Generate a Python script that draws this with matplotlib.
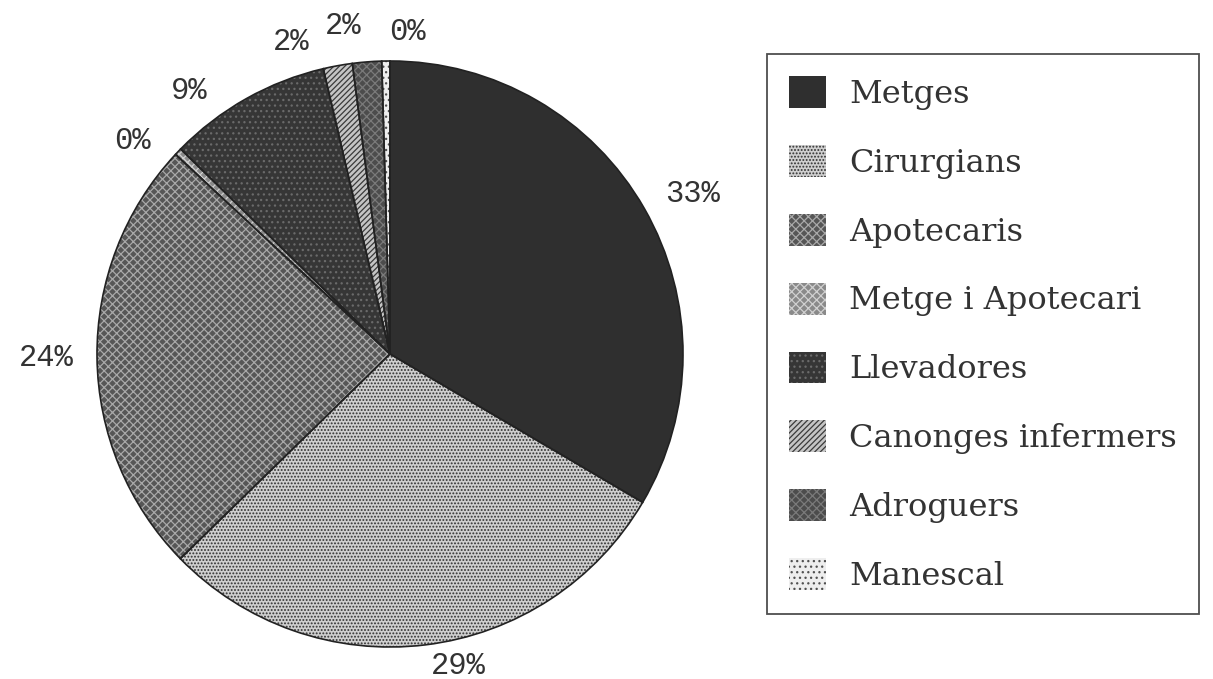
import numpy as np
import matplotlib
matplotlib.use("Agg")
import matplotlib.pyplot as plt

# ---- data ----
categories = ["Metges", "Cirurgians", "Apotecaris", "Metge i Apotecari",
              "Llevadores", "Canonges infermers", "Adroguers", "Manescal"]
shares = [33.4, 29.2, 24.2, 0.4, 9.0, 1.6, 1.6, 0.45]

# ---- style ----
face_colors = ["#2f2f2f", "#cfcfcf", "#565656", "#8a8a8a",
               "#363636", "#c4c4c4", "#4c4c4c", "#eeeeee"]
hatch_colors = ["#3c3c3c", "#303030", "#a8a8a8", "#d0d0d0",
                "#6a6a6a", "#3a3a3a", "#7a7a7a", "#505050"]
hatches = ["", ".....", "xxxx", "xxxx", "...", "//////", "xxxx", "..."]
label_nudge_deg = [-2, 6, 0, 4, 7, 5, 4, -4]
label_radius = [1.06, 1.04, 1.08, 1.06, 1.05, 1.05, 1.08, 1.05]
plt.rcParams["hatch.linewidth"] = 0.9

W, H = 1213, 679
fig = plt.figure(figsize=(W / 100, H / 100), dpi=100)
cx, cy, R = 390, H - 354, 293   # pixel centre / radius of pie
Lx, Ly = 1.33, 1.15
ax = fig.add_axes([(cx - Lx * R) / W, (cy - Ly * R) / H, 2 * Lx * R / W, 2 * Ly * R / H])

wedges, _, autotexts = ax.pie(shares, startangle=90, counterclock=False,
                              autopct=lambda p: f"{p:.0f}%", pctdistance=1.06,
                              wedgeprops=dict(linewidth=0),
                              textprops=dict(family="Liberation Mono", fontsize=22,
                                             color="#333333"))
for w, fc, hc, h in zip(wedges, face_colors, hatch_colors, hatches):
    w.set_facecolor(fc)
    w.set_edgecolor(hc)
    w.set_hatch(h)

# outlines
outl, _ = ax.pie(shares, startangle=90, counterclock=False,
                 wedgeprops=dict(fill=False, linewidth=1.2, edgecolor="#222222"))

for w, t, nd, r in zip(wedges, autotexts, label_nudge_deg, label_radius):
    ang = np.deg2rad((w.theta1 + w.theta2) / 2 + nd)
    c, s = np.cos(ang), np.sin(ang)
    t.set_position((r * c, r * s))
    t.set_ha("left" if c > 0.25 else ("right" if c < -0.25 else "center"))
    t.set_va("bottom" if s > 0.25 else ("top" if s < -0.25 else "center"))

ax.set_aspect("auto")
ax.set_xlim(-Lx, Lx)
ax.set_ylim(-Ly, Ly)
ax.axis("off")

leg = fig.legend(wedges, categories, loc="upper left",
                 bbox_to_anchor=(767 / W, 1 - 54 / H), bbox_transform=fig.transFigure,
                 borderaxespad=0, fancybox=False, frameon=True, edgecolor="#222222",
                 prop=dict(family="DejaVu Serif", size=23),
                 handlelength=1.15, handleheight=1.15, handletextpad=0.72,
                 labelspacing=1.1, borderpad=0.7)
leg.get_frame().set_linewidth(1.3)
for t in leg.get_texts():
    t.set_color("#333333")

fig.savefig("out.png", dpi=100)
